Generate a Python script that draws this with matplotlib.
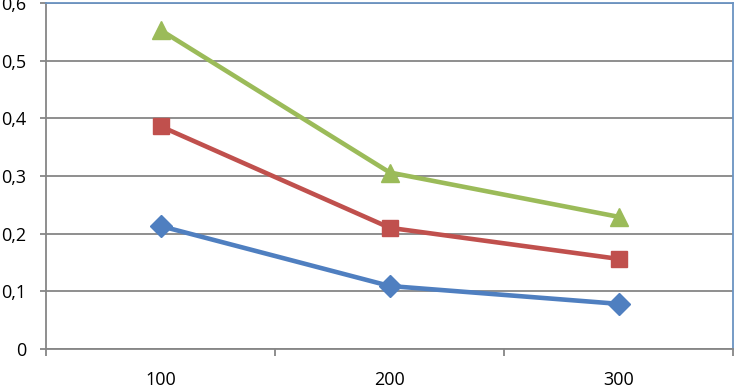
import numpy as np
import matplotlib.pyplot as plt
from matplotlib.ticker import FuncFormatter

# === Data ===
categories = ["100", "200", "300"]
series_blue  = [0.213, 0.109, 0.078]
series_red   = [0.386, 0.210, 0.156]
series_green = [0.553, 0.306, 0.229]

plt.rcParams['font.family'] = ['Open Sans', 'DejaVu Sans']

fig = plt.figure(figsize=(7.34, 3.88), dpi=100)
ax = fig.add_axes([0.063, 0.101, 0.936, 0.891])

x = np.arange(len(categories))
grid_col = "#868686"

ax.plot(x, series_blue, color="#4F7FC0", lw=3.3, marker="D", ms=11, zorder=3)
ax.plot(x, series_red, color="#C0504D", lw=3.3, marker="s", ms=12, zorder=3)
ax.plot(x, series_green, color="#9BBB59", lw=3.3, marker="^", ms=13, zorder=3)

ax.set_ylim(0, 0.6)
ax.set_yticks(np.arange(0, 0.61, 0.1))
ax.yaxis.set_major_formatter(FuncFormatter(
    lambda v, p: "0" if abs(v) < 1e-9 else f"{v:.1f}".replace(".", ",")))
ax.yaxis.grid(True, color=grid_col, lw=1.3)
ax.set_axisbelow(True)

# category axis: ticks between categories
ax.set_xlim(-0.5, len(categories) - 0.5)
ax.set_xticks(np.arange(-0.5, len(categories)))
ax.set_xticklabels([""] * (len(categories) + 1))
ax.set_xticks(x, minor=True)
ax.set_xticklabels(categories, minor=True, fontsize=13)
ax.tick_params(axis="x", which="major", length=5, color=grid_col, width=1.3)
ax.tick_params(axis="x", which="minor", length=0, pad=16)
ax.tick_params(axis="y", length=4.5, color=grid_col, width=1.3, labelsize=13, pad=10)

for s in ["left", "bottom"]:
    ax.spines[s].set_color(grid_col)
    ax.spines[s].set_linewidth(1.3)
for s in ["top", "right"]:
    ax.spines[s].set_color("#6A93C2")
    ax.spines[s].set_linewidth(1.3)

fig.savefig("out.png", dpi=100)
